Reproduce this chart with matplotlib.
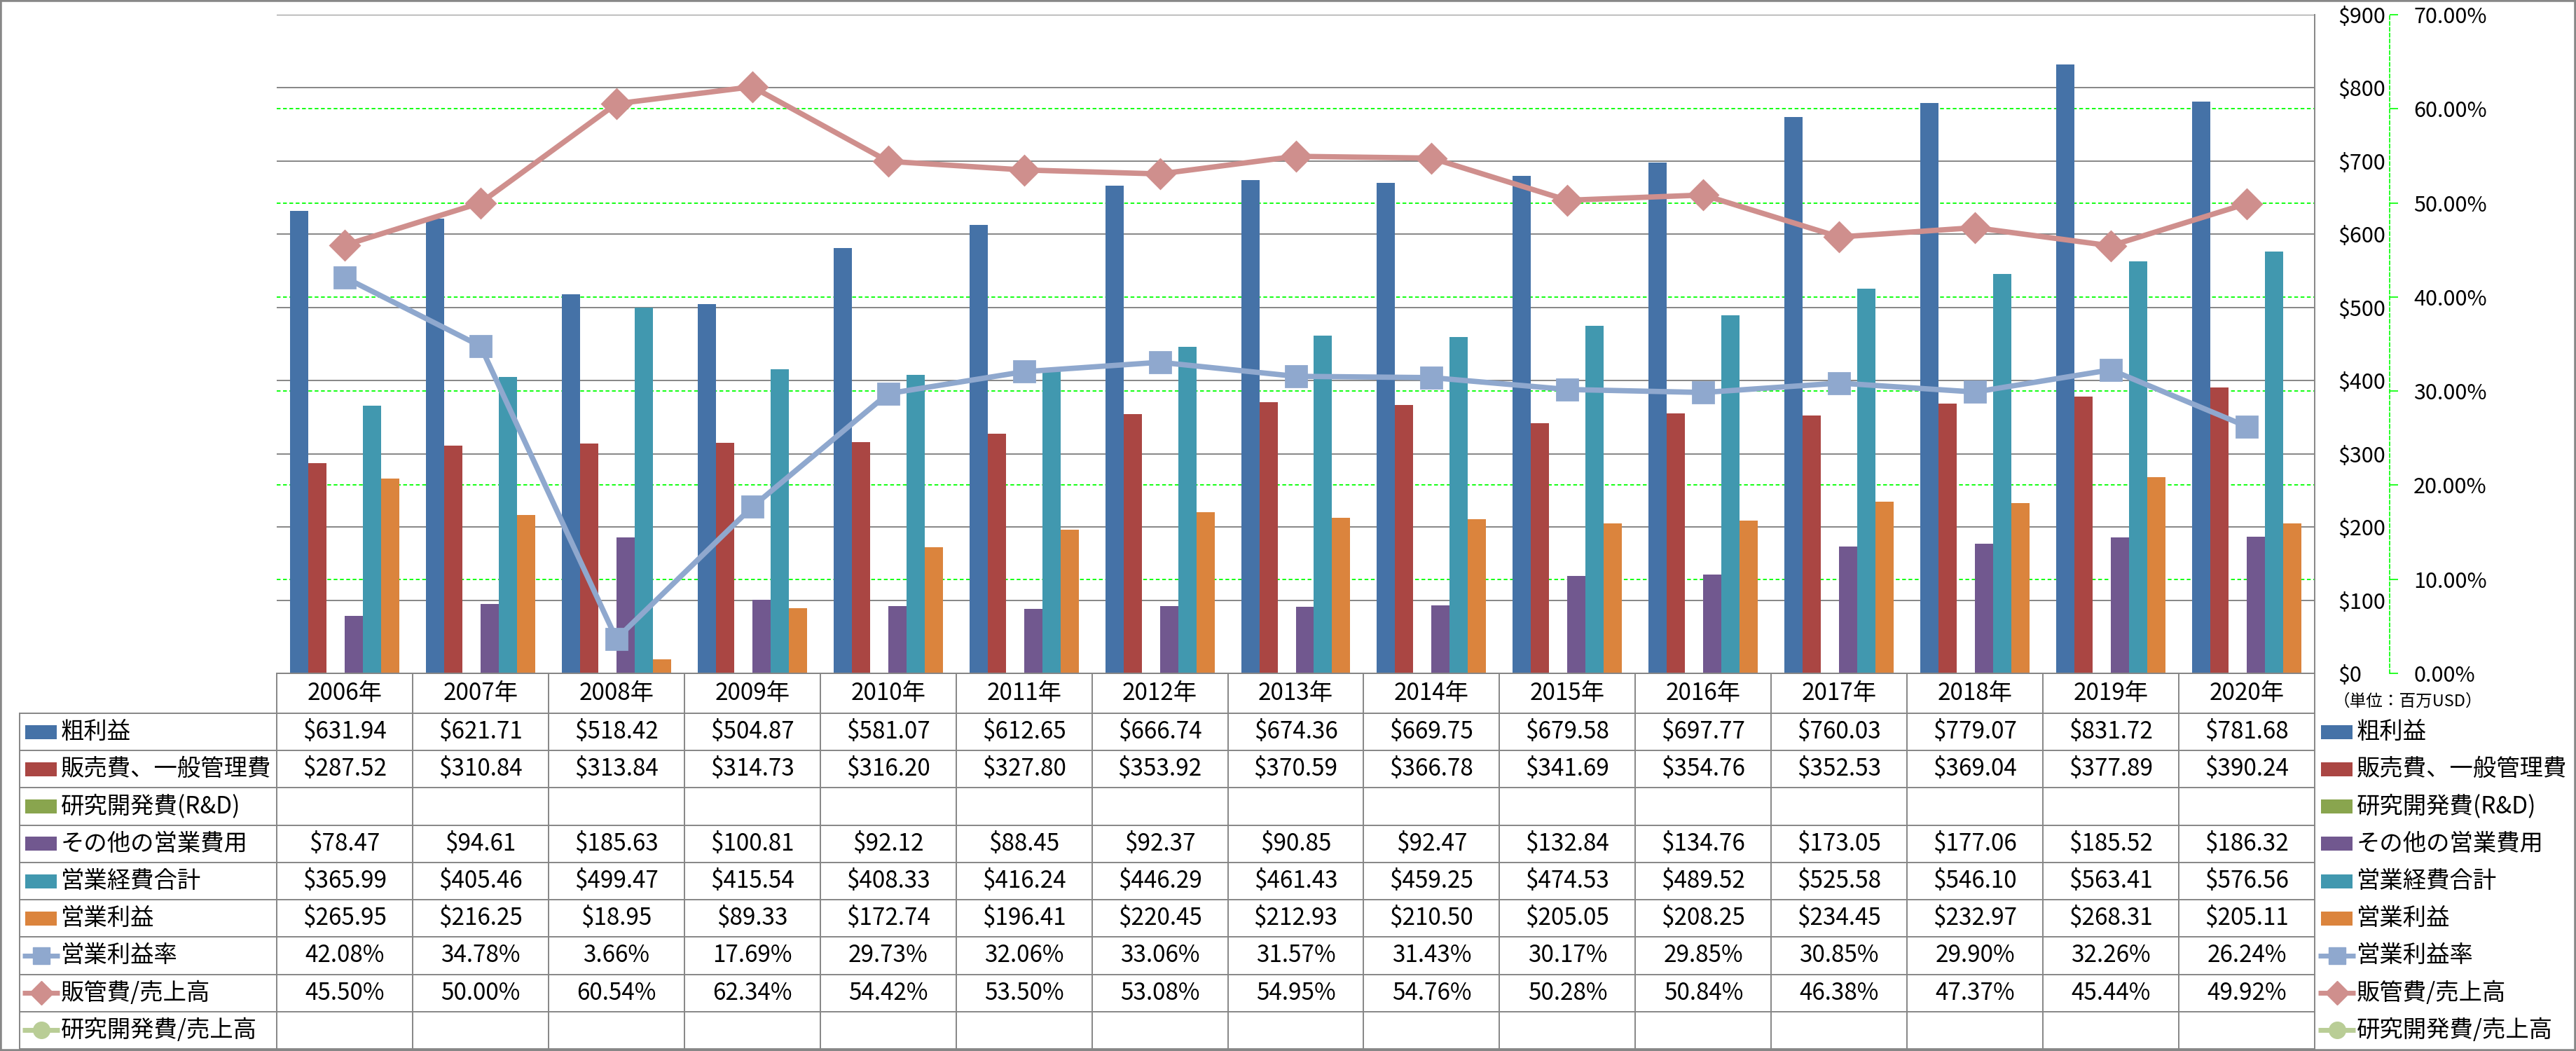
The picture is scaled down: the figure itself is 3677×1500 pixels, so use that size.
import numpy as np
import matplotlib
matplotlib.use('Agg')
import matplotlib.pyplot as plt
from matplotlib.patches import Rectangle
from matplotlib.ticker import FuncFormatter, MultipleLocator

plt.rcParams['font.family'] = ['Noto Sans CJK JP', 'DejaVu Sans']

# data (unit: million USD / %)
years = ['2006年', '2007年', '2008年', '2009年', '2010年', '2011年', '2012年', '2013年',
         '2014年', '2015年', '2016年', '2017年', '2018年', '2019年', '2020年']
gross = [631.94, 621.71, 518.42, 504.87, 581.07, 612.65, 666.74, 674.36,
         669.75, 679.58, 697.77, 760.03, 779.07, 831.72, 781.68]
sga = [287.52, 310.84, 313.84, 314.73, 316.20, 327.80, 353.92, 370.59,
       366.78, 341.69, 354.76, 352.53, 369.04, 377.89, 390.24]
rnd = [None] * 15
other = [78.47, 94.61, 185.63, 100.81, 92.12, 88.45, 92.37, 90.85,
         92.47, 132.84, 134.76, 173.05, 177.06, 185.52, 186.32]
opex = [365.99, 405.46, 499.47, 415.54, 408.33, 416.24, 446.29, 461.43,
        459.25, 474.53, 489.52, 525.58, 546.10, 563.41, 576.56]
opinc = [265.95, 216.25, 18.95, 89.33, 172.74, 196.41, 220.45, 212.93,
         210.50, 205.05, 208.25, 234.45, 232.97, 268.31, 205.11]
op_margin = [42.08, 34.78, 3.66, 17.69, 29.73, 32.06, 33.06, 31.57,
             31.43, 30.17, 29.85, 30.85, 29.90, 32.26, 26.24]
sga_ratio = [45.50, 50.00, 60.54, 62.34, 54.42, 53.50, 53.08, 54.95,
             54.76, 50.28, 50.84, 46.38, 47.37, 45.44, 49.92]
rnd_ratio = [None] * 15

labels = ['粗利益', '販売費、一般管理費', '研究開発費(R&D)', 'その他の営業費用',
          '営業経費合計', '営業利益', '営業利益率', '販管費/売上高', '研究開発費/売上高']
bar_colors = ['#4572A7', '#AA4643', '#89A54E', '#71588F', '#4198AF', '#DB843D']
line_colors = ['#8FA8CE', '#CF8F8D', '#B9CD96']
line_markers = ['s', 'D', 'o']

# layout in pixels
W, H = 3677, 1500
PL, PR, PT, PB = 395, 3304, 21, 961
TL, HB, TB = 28, 1018, 1497
usd_max, pct_max = 900, 0.70
grid_gray = '#868686'

fig = plt.figure(figsize=(W / 100, H / 100), dpi=100)

# table axes: x in category units, y in pixels
n = len(years)
cw = (PR - PL) / n
def px2x(px):
    return (px - PL) / cw - 0.5

axt = fig.add_axes([0, 0, 1, 1])
axt.set_xlim(px2x(0), px2x(W))
axt.set_ylim(H, 0)
axt.axis('off')

ax = fig.add_axes([PL / W, (H - PB) / H, (PR - PL) / W, (PB - PT) / H])
ax2 = ax.twinx()
ax.set_zorder(2)
ax2.set_zorder(3)
ax.patch.set_visible(False)
ax2.patch.set_visible(False)

x = np.arange(n)
bar_series = [gross, sga, rnd, other, opex, opinc]
w = 0.134
for k, (vals, col) in enumerate(zip(bar_series, bar_colors)):
    if all(v is None for v in vals):
        continue
    ax.bar(x + (k - 2.5) * w, vals, w, color=col, zorder=2)

ax.set_xlim(-0.5, n - 0.5)
ax.set_ylim(0, usd_max)
ax.yaxis.set_major_locator(MultipleLocator(100))
ax.yaxis.set_major_formatter(FuncFormatter(lambda v, p: '${:.0f}'.format(v)))
ax.yaxis.tick_right()
ax.tick_params(axis='y', length=0, pad=24, labelsize=22)
ax.set_xticks([])
ax.yaxis.grid(True, color=grid_gray, lw=1.4, zorder=0)
ax.set_axisbelow(True)
for s in ['left', 'top']:
    ax.spines[s].set_visible(False)
ax.spines['right'].set_color(grid_gray)
ax.spines['right'].set_linewidth(1.4)
ax.spines['bottom'].set_color(grid_gray)
ax.spines['bottom'].set_linewidth(1.4)

# green dashed grid for the percent axis (behind the bars)
pct_ticks = np.arange(0, pct_max + 1e-9, 0.1)
for p in pct_ticks[1:-1]:
    ax.axhline(p / pct_max * usd_max, color='#00FF00', lw=1.3,
               linestyle=(0, (3, 2)), zorder=0.5)

line_series = [op_margin, sga_ratio, rnd_ratio]
for vals, col, mk in zip(line_series, line_colors, line_markers):
    if all(v is None for v in vals):
        continue
    ax2.plot(x, np.array(vals) / 100, color=col, lw=5.5, marker=mk, ms=21,
             mfc=col, mec=col, mew=2, zorder=4)

ax2.set_ylim(0, pct_max)
ax2.set_yticks(pct_ticks)
ax2.yaxis.set_major_formatter(FuncFormatter(lambda v, p: '{:.2f}%'.format(v * 100)))
ax2.tick_params(axis='y', length=8.6, width=1.2, color='#00FF00', pad=16, labelsize=22)
for s in ['left', 'top', 'bottom']:
    ax2.spines[s].set_visible(False)
ax2.spines['right'].set_position(('axes', (3411 - PL) / (PR - PL)))
ax2.spines['right'].set_color('#00FF00')
ax2.spines['right'].set_linestyle((0, (3, 2)))
ax2.spines['right'].set_linewidth(1.2)

# unit note
axt.text(px2x(3437), 1001, '（単位：百万USD）', fontsize=17, ha='center', va='center')

# data table
nrows = len(labels)
row_h = (TB - HB) / nrows
row_y = [HB + i * row_h for i in range(nrows + 1)]
tcol = grid_gray
axt.plot([-0.5, n - 0.5], [PB, PB], color=tcol, lw=1.4)
for y in row_y:
    axt.plot([px2x(TL), n - 0.5], [y, y], color=tcol, lw=1.4)
for i in range(n + 1):
    axt.plot([i - 0.5, i - 0.5], [PB, TB], color=tcol, lw=1.4)
axt.plot([px2x(TL), px2x(TL)], [HB, TB], color=tcol, lw=1.4)

fs = 24
for i, yr in enumerate(years):
    axt.text(i, (PB + HB) / 2, yr, fontsize=fs, ha='center', va='center')

rows = bar_series + line_series
for r, (lab, vals) in enumerate(zip(labels, rows)):
    yc = (row_y[r] + row_y[r + 1]) / 2
    for i, v in enumerate(vals):
        if v is None:
            continue
        txt = '{:.2f}%'.format(v) if r >= 6 else '${:.2f}'.format(v)
        axt.text(i, yc, txt, fontsize=fs, ha='center', va='center')
    # legend keys, left in table and right of chart
    for kx0, kx1, tx in [(36, 81, 87), (3313, 3358, 3364)]:
        if r < 6:
            axt.add_patch(Rectangle((px2x(kx0), yc - 10), px2x(kx1) - px2x(kx0), 20,
                                    color=bar_colors[r], lw=0))
        else:
            c = line_colors[r - 6]
            axt.plot([px2x(kx0 - 4), px2x(kx1 + 4)], [yc, yc], color=c, lw=5,
                     solid_capstyle='butt')
            axt.plot([px2x((kx0 + kx1) / 2)], [yc], marker=line_markers[r - 6],
                     ms=17, color=c, mec=c)
        axt.text(px2x(tx), yc, lab, fontsize=fs, ha='left', va='center')

fig.add_artist(Rectangle((0, 0), 1, 1, transform=fig.transFigure, fill=False,
                         ec='#878787', lw=4))

plt.savefig('out.png', dpi=100)
